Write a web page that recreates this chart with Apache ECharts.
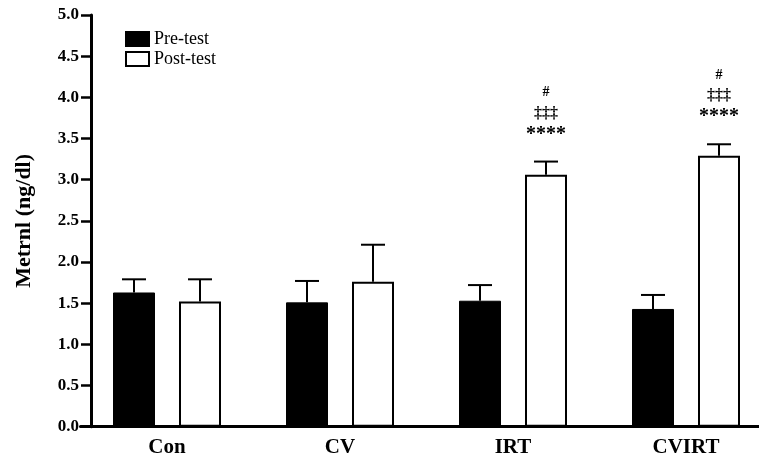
<!DOCTYPE html>
<html>
<head>
<meta charset="utf-8">
<script src="https://cdn.jsdelivr.net/npm/echarts@6/dist/echarts.min.js"></script>
<style>
  html, body { margin: 0; padding: 0; background: #fff; }
  #chart { width: 759px; height: 472px; }
</style>
</head>
<body>
<div id="chart"></div>
<script>
const categories = ['Con', 'CV', 'IRT', 'CVIRT']
const preMean = [1.63, 1.51, 1.53, 1.43]
const preErr = [0.16, 0.26, 0.19, 0.17]
const postMean = [1.52, 1.76, 3.06, 3.29]
const postErr = [0.27, 0.45, 0.16, 0.14]
const hashMarks = ['', '', '#', '#']
const daggerMarks = ['', '', '‡‡‡', '‡‡‡']
const starMarks = ['', '', '****', '****']
const yTicks = ['0.0', '0.5', '1.0', '1.5', '2.0', '2.5', '3.0', '3.5', '4.0', '4.5', '5.0']

const FONT = '"Liberation Serif", "DejaVu Serif", serif'
const BAR_W = 42
const BAR_GAP = 24
const SHIFT = (BAR_W + BAR_GAP) / 2
const CAP = 24

const chart = echarts.init(document.getElementById('chart'))

// error bar (upward only) plus optional significance marks above it
const errorSeries = (name, mean, err, dx, withMarks) => ({
  name: name + ' err',
  type: 'custom',
  z: 5,
  data: mean.map((m, i) => [i, m, m + err[i]]),
  renderItem: (params, api) => {
    const i = api.value(0)
    const base = api.coord([i, api.value(1)])
    const top = api.coord([i, api.value(2)])
    const x = base[0] + dx
    const style = { stroke: '#000', lineWidth: 2 }
    const children = [
      { type: 'line', shape: { x1: x, y1: base[1], x2: x, y2: top[1] }, style },
      { type: 'line', shape: { x1: x - CAP / 2, y1: top[1], x2: x + CAP / 2, y2: top[1] }, style },
    ]
    if (withMarks) {
      const rows = [
        [starMarks[i], 27, 20],
        [daggerMarks[i], 48, 16],
        [hashMarks[i], 69, 14],
      ]
      rows.forEach(([t, off, size]) => {
        if (!t) return
        children.push({
          type: 'text',
          style: {
            text: t, x: x, y: top[1] - off,
            align: 'center', verticalAlign: 'middle',
            font: 'bold ' + size + 'px ' + FONT, fill: '#000',
          },
        })
      })
    }
    return { type: 'group', children }
  },
  silent: true,
})

const option = {
  animation: false,
  backgroundColor: '#fff',
  grid: { left: 80.5, width: 692, top: 15, bottom: 45.3, outerBoundsMode: 'none' },
  legend: {
    orient: 'vertical',
    left: 120,
    top: 25,
    itemWidth: 23,
    itemHeight: 14,
    itemGap: 2,
    icon: 'rect',
    textStyle: { fontFamily: FONT, fontSize: 18, color: '#000' },
    data: [
      { name: 'Pre-test' },
      { name: 'Post-test' },
    ],
  },
  xAxis: {
    type: 'category',
    data: categories,
    axisLine: { lineStyle: { color: '#000', width: 3 } },
    axisTick: { show: false },
    axisLabel: { fontFamily: FONT, fontWeight: 'bold', fontSize: 21, color: '#000', margin: 10 },
  },
  yAxis: {
    type: 'value',
    min: 0,
    max: 5,
    interval: 0.5,
    offset: -10.5,
    name: 'Metrnl (ng/dl)',
    nameLocation: 'middle',
    nameGap: 56,
    nameTextStyle: { fontFamily: FONT, fontWeight: 'bold', fontSize: 22, color: '#000' },
    splitLine: { show: false },
    axisLine: { show: true, lineStyle: { color: '#000', width: 3 } },
    axisTick: { show: true, inside: false, length: 10, lineStyle: { color: '#000', width: 2.5 } },
    axisLabel: {
      fontFamily: FONT, fontWeight: 'bold', fontSize: 17, color: '#000', margin: 12,
      formatter: (v) => yTicks[Math.round(v * 2)],
    },
  },
  series: [
    {
      name: 'Pre-test',
      type: 'bar',
      barWidth: BAR_W,
      barGap: (BAR_GAP / BAR_W * 100) + '%',
      data: preMean,
      itemStyle: { color: '#000', borderColor: '#000', borderWidth: 1 },
    },
    {
      name: 'Post-test',
      type: 'bar',
      barWidth: BAR_W,
      data: postMean,
      itemStyle: { color: '#fff', borderColor: '#000', borderWidth: 2 },
    },
    errorSeries('Pre-test', preMean, preErr, -SHIFT, false),
    errorSeries('Post-test', postMean, postErr, SHIFT, true),
  ],
}

chart.setOption(option)
</script>
</body>
</html>
